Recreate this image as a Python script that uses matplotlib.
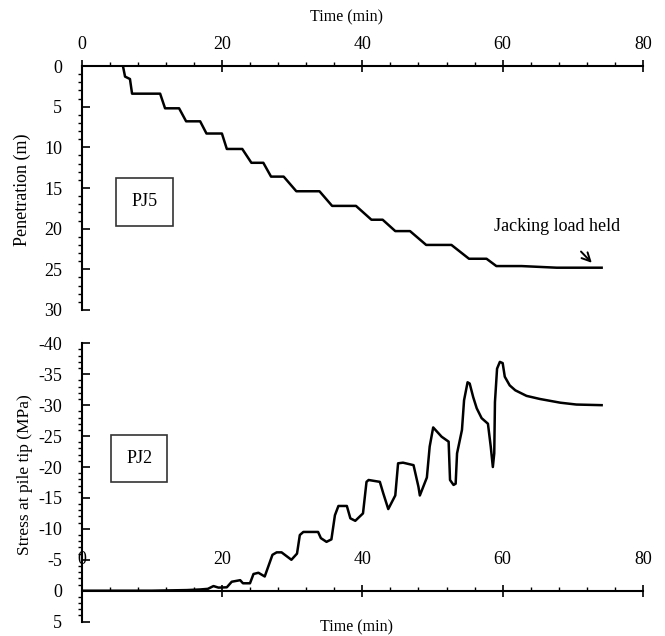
import matplotlib
matplotlib.use("Agg")
import matplotlib.pyplot as plt
from matplotlib.ticker import MultipleLocator

plt.rcParams['font.family'] = ['Liberation Serif', 'DejaVu Serif']
plt.rcParams['axes.unicode_minus'] = False

# PJ5: penetration (m) against time (min)
pen_time = [5.9, 6.2, 6.9, 7.2, 11.2, 11.9, 13.9, 14.9, 16.9, 17.8, 20.0, 20.7,
            22.9, 24.2, 25.9, 27.0, 28.8, 30.6, 33.9, 35.7, 39.1, 41.3, 42.9,
            44.7, 46.8, 49.1, 52.7, 55.2, 57.7, 59.1, 62.7, 67.7, 74.1]
pen_depth = [0.0, 1.3, 1.6, 3.4, 3.4, 5.2, 5.2, 6.8, 6.8, 8.3, 8.3, 10.2,
             10.2, 11.9, 11.9, 13.6, 13.6, 15.4, 15.4, 17.2, 17.2, 18.9, 18.9,
             20.3, 20.3, 22.0, 22.0, 23.7, 23.7, 24.6, 24.6, 24.8, 24.8]

# PJ2: stress at pile tip (MPa) against time (min)
tip_time = [0, 10, 15, 16.9, 18.0, 18.8, 19.5, 20.7, 21.4, 22.6, 23.0, 24.0,
            24.5, 25.2, 26.1, 27.2, 27.8, 28.5, 29.9, 30.7, 31.1, 31.6, 33.7,
            34.1, 34.9, 35.6, 36.1, 36.6, 37.8, 38.3, 39.0, 40.1, 40.6, 40.9,
            42.5, 43.0, 43.7, 44.7, 45.1, 45.8, 47.3, 48.0, 48.2, 49.2, 49.6,
            50.1, 51.3, 52.3, 52.5, 53.0, 53.3, 53.5, 54.2, 54.5, 55.0, 55.3,
            55.8, 56.3, 57.0, 57.9, 58.3, 58.6, 58.8, 58.9, 59.2, 59.6, 60.0,
            60.3, 61.0, 61.8, 63.4, 65.3, 68.2, 70.5, 74.1]
tip_stress = [0, 0, -0.1, -0.2, -0.3, -0.75, -0.5, -0.55, -1.45, -1.7, -1.2, -1.2,
              -2.7, -2.9, -2.3, -5.8, -6.2, -6.2, -5.0, -6.0, -9.0, -9.5, -9.5,
              -8.5, -7.9, -8.3, -12.2, -13.7, -13.7, -11.7, -11.3, -12.5, -17.6, -17.9,
              -17.6, -15.7, -13.2, -15.4, -20.6, -20.7, -20.3, -16.8, -15.4, -18.3, -23.3,
              -26.4, -24.9, -24.1, -17.9, -17.1, -17.3, -22.2, -26.0, -30.8, -33.7, -33.5,
              -31.3, -29.5, -27.9, -27.0, -23.3, -20.0, -22.2, -30.5, -35.9, -37.0, -36.8,
              -34.6, -33.2, -32.4, -31.5, -31.0, -30.4, -30.1, -30.0]

time_ticks = [0, 20, 40, 60, 80]

fig = plt.figure(figsize=(6.65, 6.36), dpi=100)

# ---- top panel: penetration ----
ax1 = fig.add_axes([0.1226, 0.5126, 0.8444, 0.3836])
ax1.plot(pen_time, pen_depth, color='black', lw=1.8)
ax1.set_xlim(0, 80)
ax1.set_ylim(30, 0)
ax1.spines['right'].set_visible(False)
ax1.spines['bottom'].set_visible(False)
ax1.xaxis.tick_top()
ax1.set_xticks(time_ticks)
ax1.xaxis.set_minor_locator(MultipleLocator(4))
ax1.yaxis.set_major_locator(MultipleLocator(5))
ax1.yaxis.set_minor_locator(MultipleLocator(1))
ax1.tick_params(axis='x', which='major', direction='inout', length=9, width=1.2,
                labelsize=13, pad=5)
ax1.tick_params(axis='x', which='minor', direction='out', length=3, width=1)
ax1.tick_params(axis='y', which='major', direction='in', length=6, width=1.2,
                labelsize=13, pad=14)
ax1.tick_params(axis='y', which='minor', direction='out', length=3, width=1)
for s in ax1.spines.values():
    s.set_linewidth(1.5)

ax1.text(8.97, 16.7, 'PJ5', fontsize=13, ha='center', va='center',
         bbox=dict(boxstyle='square,pad=0.85', fc='white', ec='#333333', lw=1.2))
ax1.annotate('Jacking load held', xy=(72.7, 24.2), xytext=(67.7, 19.7),
             fontsize=13, ha='center', va='center',
             arrowprops=dict(arrowstyle='->', color='black', lw=1.4,
                             mutation_scale=15, shrinkA=14, shrinkB=0))

# ---- bottom panel: stress at pile tip ----
ax2 = fig.add_axes([0.1226, 0.0226, 0.8444, 0.4376])
ax2.plot(tip_time, tip_stress, color='black', lw=1.8)
ax2.set_xlim(0, 80)
ax2.set_ylim(5, -40)
ax2.spines['right'].set_visible(False)
ax2.spines['top'].set_visible(False)
ax2.spines['bottom'].set_position(('data', 0))
ax2.set_xticks(time_ticks)
ax2.set_xticklabels([])
ax2.xaxis.set_minor_locator(MultipleLocator(4))
ax2.yaxis.set_major_locator(MultipleLocator(5))
ax2.yaxis.set_minor_locator(MultipleLocator(1))
ax2.tick_params(axis='x', which='major', direction='inout', length=9, width=1.2)
ax2.tick_params(axis='x', which='minor', direction='in', length=3, width=1)
ax2.tick_params(axis='y', which='major', direction='in', length=6, width=1.2,
                labelsize=13, pad=14)
ax2.tick_params(axis='y', which='minor', direction='out', length=3, width=1)
for s in ax2.spines.values():
    s.set_linewidth(1.5)
for t in time_ticks:
    ax2.text(t, -5, str(t), fontsize=13, ha='center', va='center')

ax2.text(8.2, -21.4, 'PJ2', fontsize=13, ha='center', va='center',
         bbox=dict(boxstyle='square,pad=0.85', fc='white', ec='#333333', lw=1.2))

# axis titles placed on the figure
fig.text(346 / 665, 1 - 17 / 636, 'Time (min)', fontsize=11.5,
         ha='center', va='center')
fig.text(22 / 665, 1 - 190 / 636, 'Penetration (m)', fontsize=13,
         rotation=90, ha='center', va='center')
fig.text(25 / 665, 1 - 475 / 636, 'Stress at pile tip (MPa)', fontsize=12.5,
         rotation=90, ha='center', va='center')
fig.text(357 / 665, 1 - 627 / 636, 'Time (min)', fontsize=11.5,
         ha='center', va='center')

fig.savefig('out.png', dpi=100)
